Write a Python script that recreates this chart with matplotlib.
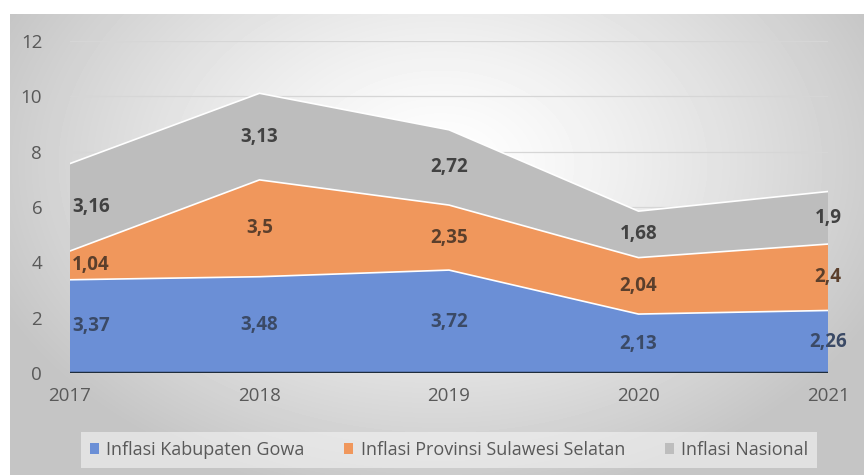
import numpy as np
import matplotlib.pyplot as plt

# data
years = [2017, 2018, 2019, 2020, 2021]
gowa = [3.37, 3.48, 3.72, 2.13, 2.26]
sulsel = [1.04, 3.5, 2.35, 2.04, 2.4]
nasional = [3.16, 3.13, 2.72, 1.68, 1.9]
names = ['Inflasi Kabupaten Gowa', 'Inflasi Provinsi Sulawesi Selatan', 'Inflasi Nasional']
colors = ['#6b8fd6', '#f0975c', '#bdbdbd']
label_colors = ['#3b4a66', '#5b3f2c', '#424242']

plt.rcParams['font.family'] = ['Open Sans', 'DejaVu Sans']

W, H = 864, 475
fig = plt.figure(figsize=(W / 100, H / 100), dpi=100)
fig.patch.set_facecolor('white')

# radial grey gradient behind chart
bg = fig.add_axes([10 / W, 0, (W - 10) / W, (H - 14) / H])
yy, xx = np.mgrid[0:H - 14, 0:W - 10]
r = np.sqrt(((xx - 430) / 470.0) ** 2 + ((yy - 150) / 330.0) ** 2)
val = np.clip(1.0 - 0.22 * r ** 1.3, 0.77, 1.0)
bg.imshow(val, cmap='gray', vmin=0, vmax=1, aspect='auto', interpolation='bilinear')
bg.axis('off')

ax = fig.add_axes([70 / W, 102 / H, (828 - 70) / W, (373 - 41) / H])
ax.patch.set_alpha(0)

series = [gowa, sulsel, nasional]
ax.stackplot(years, *series, colors=colors, labels=names, zorder=2)
cum = np.cumsum(series, axis=0)
for c in cum:
    ax.plot(years, c, color='white', lw=1.2, zorder=3)
ax.axhline(0, color='#1f2d3d', lw=2.5, zorder=4)

ax.set_xlim(2017, 2021)
ax.set_ylim(0, 12)
ax.set_yticks(range(0, 13, 2))
ax.set_xticks(years)
ax.grid(axis='y', color='#d6d6d6', lw=0.9, zorder=1)
ax.set_axisbelow(True)
for s in ax.spines.values():
    s.set_visible(False)
ax.tick_params(length=0, labelsize=13.5, colors='#595959')
ax.tick_params(axis='y', pad=20)
ax.tick_params(axis='x', pad=10)

# data labels in the middle of each band
bottoms = np.vstack([np.zeros(len(years)), cum[:-1]])
for k, s in enumerate(series):
    for i, x in enumerate(years):
        y = bottoms[k][i] + s[i] / 2
        txt = str(s[i]).replace('.', ',')
        if i == 0:
            ax.text(x + 0.01, y, txt, ha='left', va='center', fontsize=13.5,
                    fontweight='bold', color=label_colors[k], zorder=5)
        else:
            ax.text(x, y, txt, ha='center', va='center', fontsize=13.5,
                    fontweight='bold', color=label_colors[k], zorder=5)

leg = ax.legend(loc='center', bbox_to_anchor=(449 / W, 25 / H), bbox_transform=fig.transFigure,
                ncol=3, frameon=True, fontsize=13, handlelength=0.5, handleheight=0.5,
                handletextpad=0.4, columnspacing=2.2, fancybox=False, borderpad=0.5,
                borderaxespad=0)
leg.get_frame().set_facecolor('#f4f4f4')
leg.get_frame().set_edgecolor('none')
leg.get_frame().set_alpha(0.6)
for t in leg.get_texts():
    t.set_color('#595959')

fig.savefig('out.png', dpi=100)
